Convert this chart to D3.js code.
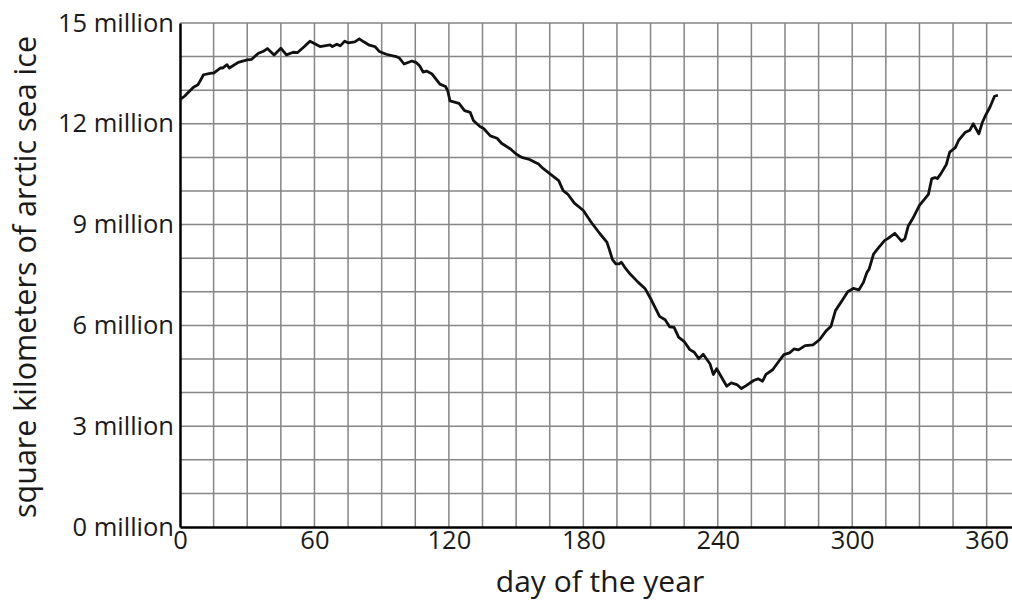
<!DOCTYPE html>
<html>
<head>
<meta charset="utf-8">
<script src="https://cdn.jsdelivr.net/npm/d3@7"></script>
<style>
  body { margin: 0; background: #fff; }
  svg { display: block; font-family: "Open Sans", sans-serif; }
</style>
</head>
<body>
<div id="chart"></div>
<script>
// day of the year and ice extent (million km²)
var days = [0, 2, 6, 8, 10.5, 14, 15, 18, 19, 21, 22, 26, 30, 32, 35, 37, 39, 42, 45, 47.5,
  50.5, 52.5, 55.5, 58, 62.5, 67, 68, 70, 71.5, 73.5, 75, 78, 80, 82, 84.5, 87, 89, 92, 96.5, 98,
  100, 103.5, 105.5, 107, 108.5, 110, 112.5, 116, 118.5, 119.5, 120.5, 124.5, 127, 129.5, 131, 134,
  135.5, 138.5, 141.5, 143.5, 147.5, 150, 152.5, 155.5, 160, 162, 165, 169, 171, 173, 176, 180,
  183.5, 187.5, 190.5, 191.5, 193, 194.5, 196, 197, 198.5, 201, 204.5, 207.5, 210.5, 214, 216.5,
  218.5, 220.5, 222.5, 225, 227.5, 229.5, 231.5, 233.5, 236.5, 238, 239.5, 244, 246, 248.5, 250.5,
  252.5, 256, 258, 260, 261.5, 264.5, 267, 269.5, 272, 274, 276, 279, 282.5, 285.5, 288.5, 290.5,
  292.5, 295.5, 298, 300.5, 303, 305, 306.5, 307.5, 309.5, 311.5, 314.5, 316, 319, 322, 323.5, 325,
  327, 330, 334, 335.5, 337, 338, 339.5, 342, 343.5, 346, 347.5, 350.5, 352.5, 354, 356.5, 358,
  359.5, 361.5, 363.5, 365];
var extent = [12.72, 12.82, 13.09, 13.16, 13.46, 13.51, 13.51, 13.66, 13.66, 13.76, 13.66, 13.83,
  13.90, 13.92, 14.10, 14.15, 14.24, 14.05, 14.25, 14.05, 14.13, 14.12, 14.30, 14.46, 14.30, 14.35,
  14.30, 14.37, 14.32, 14.46, 14.41, 14.44, 14.53, 14.44, 14.34, 14.30, 14.15, 14.07, 14.00, 13.95,
  13.78, 13.87, 13.82, 13.72, 13.54, 13.57, 13.48, 13.18, 13.11, 12.98, 12.68, 12.61, 12.39, 12.34,
  12.09, 11.91, 11.86, 11.64, 11.57, 11.42, 11.25, 11.10, 11.00, 10.95, 10.80, 10.67, 10.52, 10.31,
  10.01, 9.91, 9.64, 9.42, 9.07, 8.72, 8.48, 8.28, 7.96, 7.83, 7.83, 7.88, 7.73, 7.52, 7.28, 7.10,
  6.74, 6.27, 6.17, 5.96, 5.94, 5.65, 5.52, 5.28, 5.20, 5.01, 5.14, 4.86, 4.54, 4.71, 4.19, 4.29,
  4.24, 4.12, 4.20, 4.36, 4.41, 4.34, 4.54, 4.68, 4.91, 5.13, 5.18, 5.30, 5.27, 5.40, 5.42, 5.58,
  5.85, 5.97, 6.44, 6.74, 7.00, 7.10, 7.06, 7.28, 7.57, 7.67, 8.12, 8.29, 8.53, 8.59, 8.74, 8.51,
  8.58, 8.96, 9.18, 9.57, 9.90, 10.37, 10.40, 10.37, 10.51, 10.79, 11.16, 11.29, 11.51, 11.75,
  11.81, 12.00, 11.70, 12.03, 12.25, 12.50, 12.82, 12.85];

var xTicks = [0, 60, 120, 180, 240, 300, 360];
var yTicks = [0, 3, 6, 9, 12, 15];

var width = 1012, height = 602;
var margin = {top: 23, right: 0, bottom: 75, left: 180};

var svg = d3.select("#chart").append("svg")
  .attr("width", width).attr("height", height);

var x = d3.scaleLinear().domain([0, 371.3]).range([margin.left, width - margin.right]);
var y = d3.scaleLinear().domain([0, 15]).range([height - margin.bottom, margin.top]);

// grid
var grid = svg.append("g").attr("stroke", "#858585").attr("stroke-width", 1.5);
grid.selectAll(".gx").data(d3.range(15, 371, 15)).enter().append("line")
  .attr("x1", d => x(d)).attr("x2", d => x(d))
  .attr("y1", y(0)).attr("y2", y(15));
grid.selectAll(".gy").data(d3.range(1, 16, 1)).enter().append("line")
  .attr("x1", x(0)).attr("x2", width)
  .attr("y1", d => y(d)).attr("y2", d => y(d));

// axes
var xAxis = svg.append("g")
  .attr("transform", `translate(0,${y(0)})`)
  .call(d3.axisBottom(x).tickValues(xTicks).tickSize(0).tickPadding(4));
xAxis.select(".domain").attr("stroke", "#000").attr("stroke-width", 2.5);
xAxis.selectAll("text").attr("font-size", 25.5).attr("fill", "#1a1a1a")
  .attr("font-family", "Open Sans");

var yAxis = svg.append("g")
  .attr("transform", `translate(${x(0)},0)`)
  .call(d3.axisLeft(y).tickValues(yTicks).tickSize(0).tickPadding(6)
    .tickFormat(d => d + " million"));
yAxis.select(".domain").attr("stroke", "#000").attr("stroke-width", 2.5);
yAxis.selectAll("text").attr("font-size", 25.5).attr("fill", "#1a1a1a")
  .attr("font-family", "Open Sans");

// line
var line = d3.line().x((d, i) => x(days[i])).y(d => y(d));
svg.append("path")
  .datum(extent)
  .attr("d", line)
  .attr("fill", "none")
  .attr("stroke", "#111")
  .attr("stroke-width", 2.8)
  .attr("stroke-linejoin", "round");

// titles
svg.append("text")
  .attr("x", 600).attr("y", 592)
  .attr("text-anchor", "middle")
  .attr("font-size", 30).attr("fill", "#1a1a1a")
  .text("day of the year");

svg.append("text")
  .attr("transform", "translate(36,277) rotate(-90)")
  .attr("text-anchor", "middle")
  .attr("font-size", 30.5).attr("fill", "#1a1a1a")
  .text("square kilometers of arctic sea ice");
</script>
</body>
</html>
